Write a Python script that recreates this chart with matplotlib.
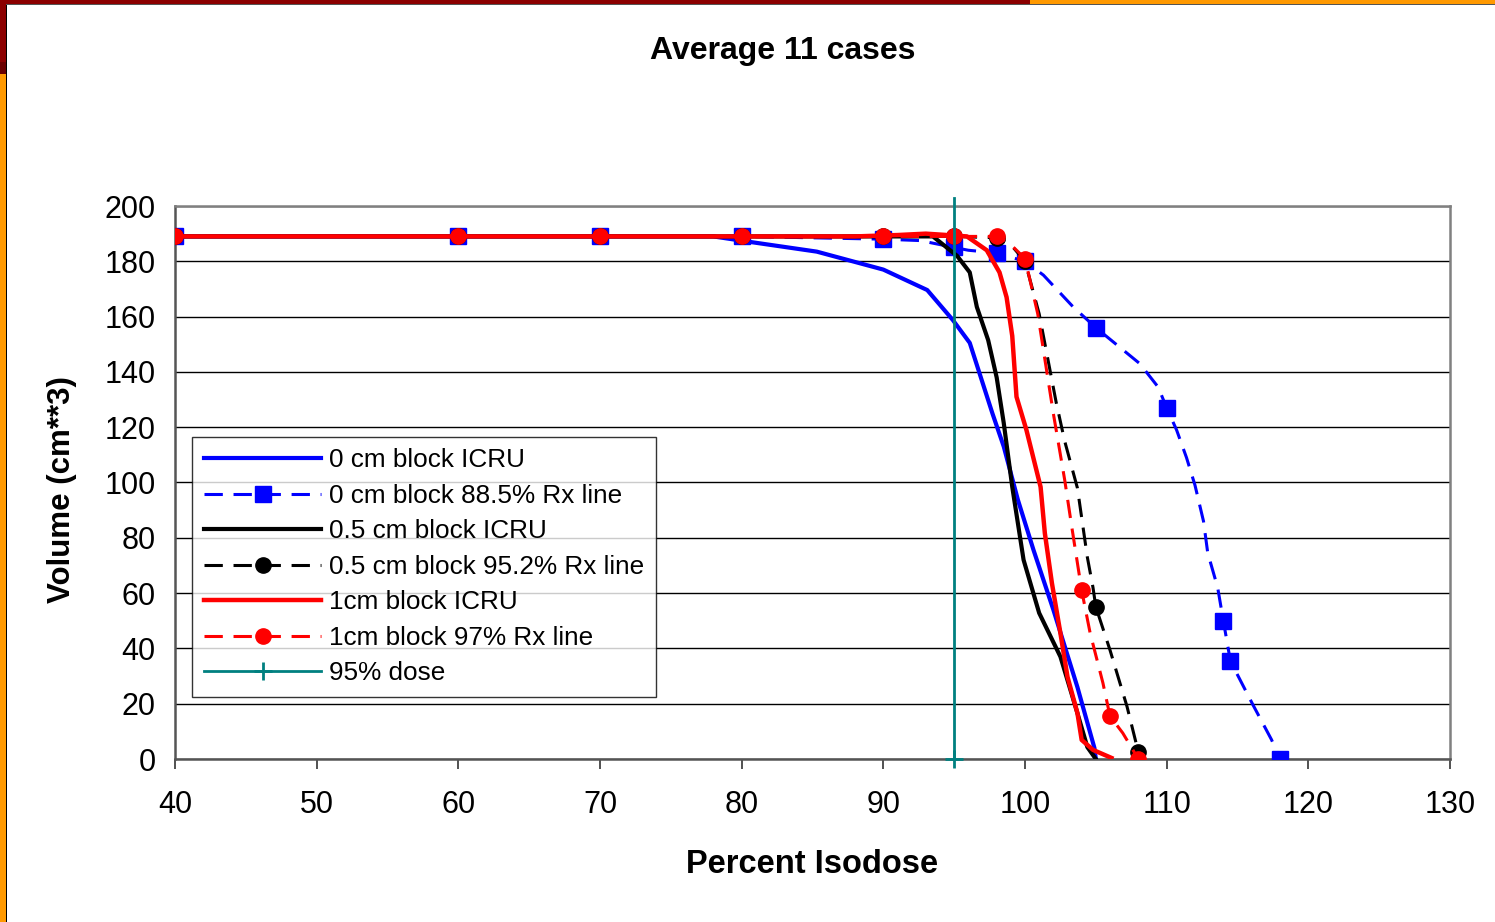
import matplotlib.pyplot as plt
from matplotlib.patches import Rectangle

plt.rcParams['font.family'] = ['Liberation Sans', 'DejaVu Sans']

# 0 cm block
b_icru_x = [40, 78, 80.6, 85.3, 90, 93.1, 94.9, 96.1, 97.7, 98.5, 99.5, 100.6, 102, 103.7, 104.9, 105]
b_icru_y = [189, 189, 187, 183.5, 177, 169.6, 158.8, 150.5, 125, 113, 93.7, 75.6, 54, 26, 4, 0]
b_rx_x = [40, 60, 70, 80, 90, 92.6, 95, 96, 98, 100, 101.3, 103.4, 105, 108.1, 109.4, 110,
          110.7, 111.4, 112, 112.6, 112.9, 113.6, 114, 114.5, 116.1, 117.4, 118]
b_rx_y = [189, 189, 189, 189, 188, 187.5, 185, 184, 183, 180, 175, 163.5, 156, 143, 134.5, 127,
          119, 109, 99, 86, 74.5, 62, 50, 35.4, 19.5, 7, 0]
b_rx_marks = [0, 1, 2, 3, 4, 6, 8, 9, 12, 15, 22, 23, 26]

# 0.5 cm block
k_icru_x = [40, 93.5, 95.2, 96.1, 96.6, 97.4, 98, 98.5, 99.1, 99.9, 101, 102.5, 103.7, 104.4, 105]
k_icru_y = [189, 189, 182, 176, 163.5, 151.5, 138, 121.5, 98.4, 72, 52.8, 37, 16.6, 4.3, 0]
k_rx_x = [40, 60, 70, 80, 90, 95, 98, 99, 100, 101, 102.2, 102.8, 103.7, 104.4, 104.8, 105,
          106, 107.2, 108]
k_rx_y = [189, 189, 189, 189, 189, 189, 188.5, 186, 180, 161, 129, 115, 98, 73, 62, 55,
          39.4, 19, 2.5]
k_rx_marks = [0, 1, 2, 3, 4, 5, 6, 8, 15, 18]

# 1 cm block
r_icru_x = [40, 88, 91, 93, 94.5, 95.9, 97.3, 98.2, 98.7, 99.1, 99.4, 100.1, 101.1, 101.4,
            101.9, 102.5, 103, 103.7, 104, 104.8, 106.1]
r_icru_y = [189, 189, 189.5, 190, 189.5, 189, 184, 176, 167, 153, 131, 119, 98.4, 81.7,
            63.6, 45.5, 29.7, 16.6, 6.9, 3.3, 0.4]
r_rx_x = [40, 60, 70, 80, 90, 95, 98, 99, 100, 100.9, 102, 102.8, 103.3, 104, 104.6, 105.5,
          106, 106.9, 108]
r_rx_y = [189, 189, 189, 189, 189, 189, 189, 186, 181, 161, 125, 101, 84, 61, 45.5, 27.5,
          15.5, 9.4, 0]
r_rx_marks = [0, 1, 2, 3, 4, 5, 6, 8, 13, 16, 18]

dose95_x = [95, 95]
dose95_y = [0, 203]

fig = plt.figure(figsize=(14.95, 9.22), dpi=100)
ax = fig.add_axes([175 / 1495, 1 - 759 / 922, 1275 / 1495, 553 / 922])

dash = (6, 3.5)
ax.plot(b_icru_x, b_icru_y, color='#0000FF', lw=3, label='0 cm block ICRU', zorder=3)
ax.plot(b_rx_x, b_rx_y, color='#0000FF', lw=2.2, dashes=dash, marker='s', ms=11,
        markevery=b_rx_marks, label='0 cm block 88.5% Rx line', zorder=3)
ax.plot(k_icru_x, k_icru_y, color='black', lw=3, label='0.5 cm block ICRU', zorder=3)
ax.plot(k_rx_x, k_rx_y, color='black', lw=2.2, dashes=dash, marker='o', ms=11,
        markevery=k_rx_marks, label='0.5 cm block 95.2% Rx line', zorder=3)
ax.plot(r_icru_x, r_icru_y, color='#FF0000', lw=3.2, label='1cm block ICRU', zorder=3)
ax.plot(r_rx_x, r_rx_y, color='#FF0000', lw=2.2, dashes=dash, marker='o', ms=11,
        markevery=r_rx_marks, label='1cm block 97% Rx line', zorder=3)
ax.plot(dose95_x, dose95_y, color='#008080', lw=2, marker='+', ms=13, mew=2,
        markevery=[0], clip_on=False, label='95% dose', zorder=3)

ax.set_xlim(40, 130)
ax.set_ylim(0, 200)
ax.set_xticks(range(40, 131, 10))
ax.set_yticks(range(0, 201, 20))
ax.tick_params(axis='x', labelsize=22, length=7, width=1.2, pad=15, direction='out', color='#333333')
ax.tick_params(axis='y', labelsize=22, length=0, pad=14)
ax.grid(axis='y', color='black', lw=1)
ax.set_axisbelow(True)
for s in ['top', 'right']:
    ax.spines[s].set_color('#808080')
    ax.spines[s].set_linewidth(1.8)
for s in ['left', 'bottom']:
    ax.spines[s].set_color('#555555')
    ax.spines[s].set_linewidth(1.8)

leg = ax.legend(loc='lower left', bbox_to_anchor=((192 - 175) / 1275, (759 - 697) / 553),
                fontsize=18.8, frameon=True, fancybox=False, edgecolor='black',
                handlelength=4.5, handletextpad=0.3, labelspacing=0.44, borderpad=0.45,
                borderaxespad=0, numpoints=1)
leg.get_frame().set_linewidth(1)

fig.text(783 / 1495, 1 - 51 / 922, 'Average 11 cases', ha='center', va='center',
         fontsize=23, fontweight='bold')
fig.text(812 / 1495, 1 - 864 / 922, 'Percent Isodose', ha='center', va='center',
         fontsize=23.5, fontweight='bold')
fig.text(62 / 1495, 1 - 490 / 922, 'Volume (cm**3)', ha='center', va='center',
         fontsize=22.5, fontweight='bold', rotation=90)

# slide background edges
W, H = 1495, 922
def px_rect(x, y, w, h, c):
    fig.patches.append(Rectangle((x / W, 1 - (y + h) / H), w / W, h / H, color=c,
                                 transform=fig.transFigure, figure=fig, lw=0))
px_rect(0, 0, 1030, 4, '#8B0000')
px_rect(1030, 0, W - 1030, 4, '#FF9900')
px_rect(0, 0, 6, 62, '#8B0000')
px_rect(0, 62, 6, 12, '#6B0000')
px_rect(0, 74, 6, H - 74, '#FF9900')
px_rect(6, 4, 1.5, H - 4, 'black')
px_rect(6, 4, W - 6, 1.2, '#555555')

fig.savefig('out.png', dpi=100)
